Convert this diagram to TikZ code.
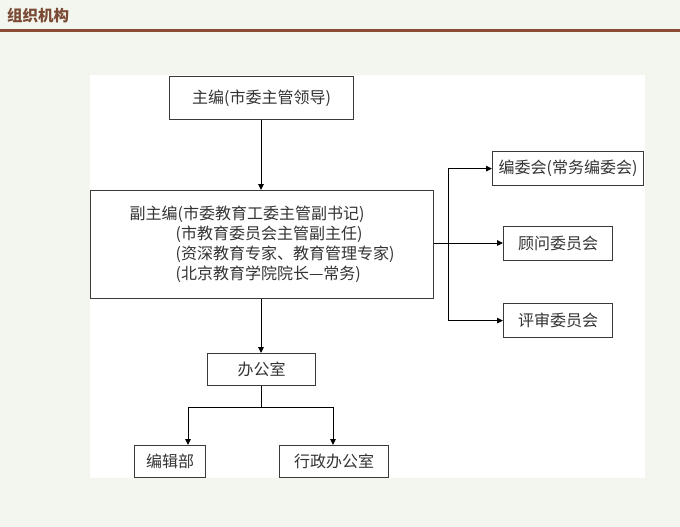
\documentclass[tikz,border=0pt]{standalone}
\usepackage{fontspec}
\newfontfamily\cjk{Noto Sans CJK SC}
\usetikzlibrary{arrows.meta}
\definecolor{pagebg}{HTML}{F3F6EE}
\definecolor{headbrown}{HTML}{7A4A34}
\definecolor{rulebrown}{HTML}{8A4C35}
\definecolor{boxline}{HTML}{3A3A3A}
\tikzset{
  orgbox/.style={draw=boxline, line width=1.2pt, fill=white, inner sep=0pt, anchor=north west,
    font=\cjk\fontsize{16}{20}\selectfont, text=black!80},
  conn/.style={draw=black, line width=1pt, -{Triangle[length=6pt,width=5.5pt]}},
  plain/.style={draw=black, line width=1pt}
}
\begin{document}
\begin{tikzpicture}[x=1pt,y=-1pt]
\useasboundingbox (0,0) rectangle (680,527);
\fill[pagebg] (0,0) rectangle (680,527);
\node[anchor=west, text=headbrown, font=\cjk\bfseries\fontsize{15.5}{18}\selectfont, inner sep=0pt] (title) at (7,16) {组织机构};
\fill[rulebrown] (0,29.5) rectangle (680,32.5);
\fill[white] (90,75.5) rectangle (645,478);

\node[orgbox, minimum width=184pt, minimum height=43pt] (zb) at (169,76) {主编(市委主管领导)};
\node[orgbox, minimum width=343pt, minimum height=108pt, align=left] (fzb) at (90,190)
  {副主编(市委教育工委主管副书记)\\
   \hspace*{46pt}(市教育委员会主管副主任)\\
   \hspace*{46pt}(资深教育专家、教育管理专家)\\
   \hspace*{46pt}(北京教育学院院长—常务)};
\node[orgbox, minimum width=151pt, minimum height=34pt] (bwh) at (492,151) {编委会(常务编委会)};
\node[orgbox, minimum width=109pt, minimum height=34pt] (gw) at (503,226) {顾问委员会};
\node[orgbox, minimum width=109pt, minimum height=34pt] (ps) at (503,303) {评审委员会};
\node[orgbox, minimum width=108pt, minimum height=32pt] (bgs) at (207,353) {办公室};
\node[orgbox, minimum width=71pt, minimum height=32pt] (bjb) at (134,445) {编辑部};
\node[orgbox, minimum width=109pt, minimum height=32pt] (xz) at (279,445) {行政办公室};

\coordinate (br) at (448,243);
\coordinate (sp) at (261,407);

\draw[conn] (zb.south -| 261,0) -- (fzb.north -| 261,0);
\draw[plain] (fzb.east |- br) -- (br);
\draw[conn] (br) |- (bwh.west);
\draw[conn] (br) -- (br -| gw.west);
\draw[conn] (br) |- (ps.west);
\draw[conn] (fzb.south -| 261,0) -- (bgs.north -| 261,0);
\draw[plain] (bgs.south -| sp) -- (sp);
\draw[conn] (sp) -| (bjb.north -| 188,0);
\draw[conn] (sp) -| (xz.north -| 333,0);
\end{tikzpicture}
\end{document}
